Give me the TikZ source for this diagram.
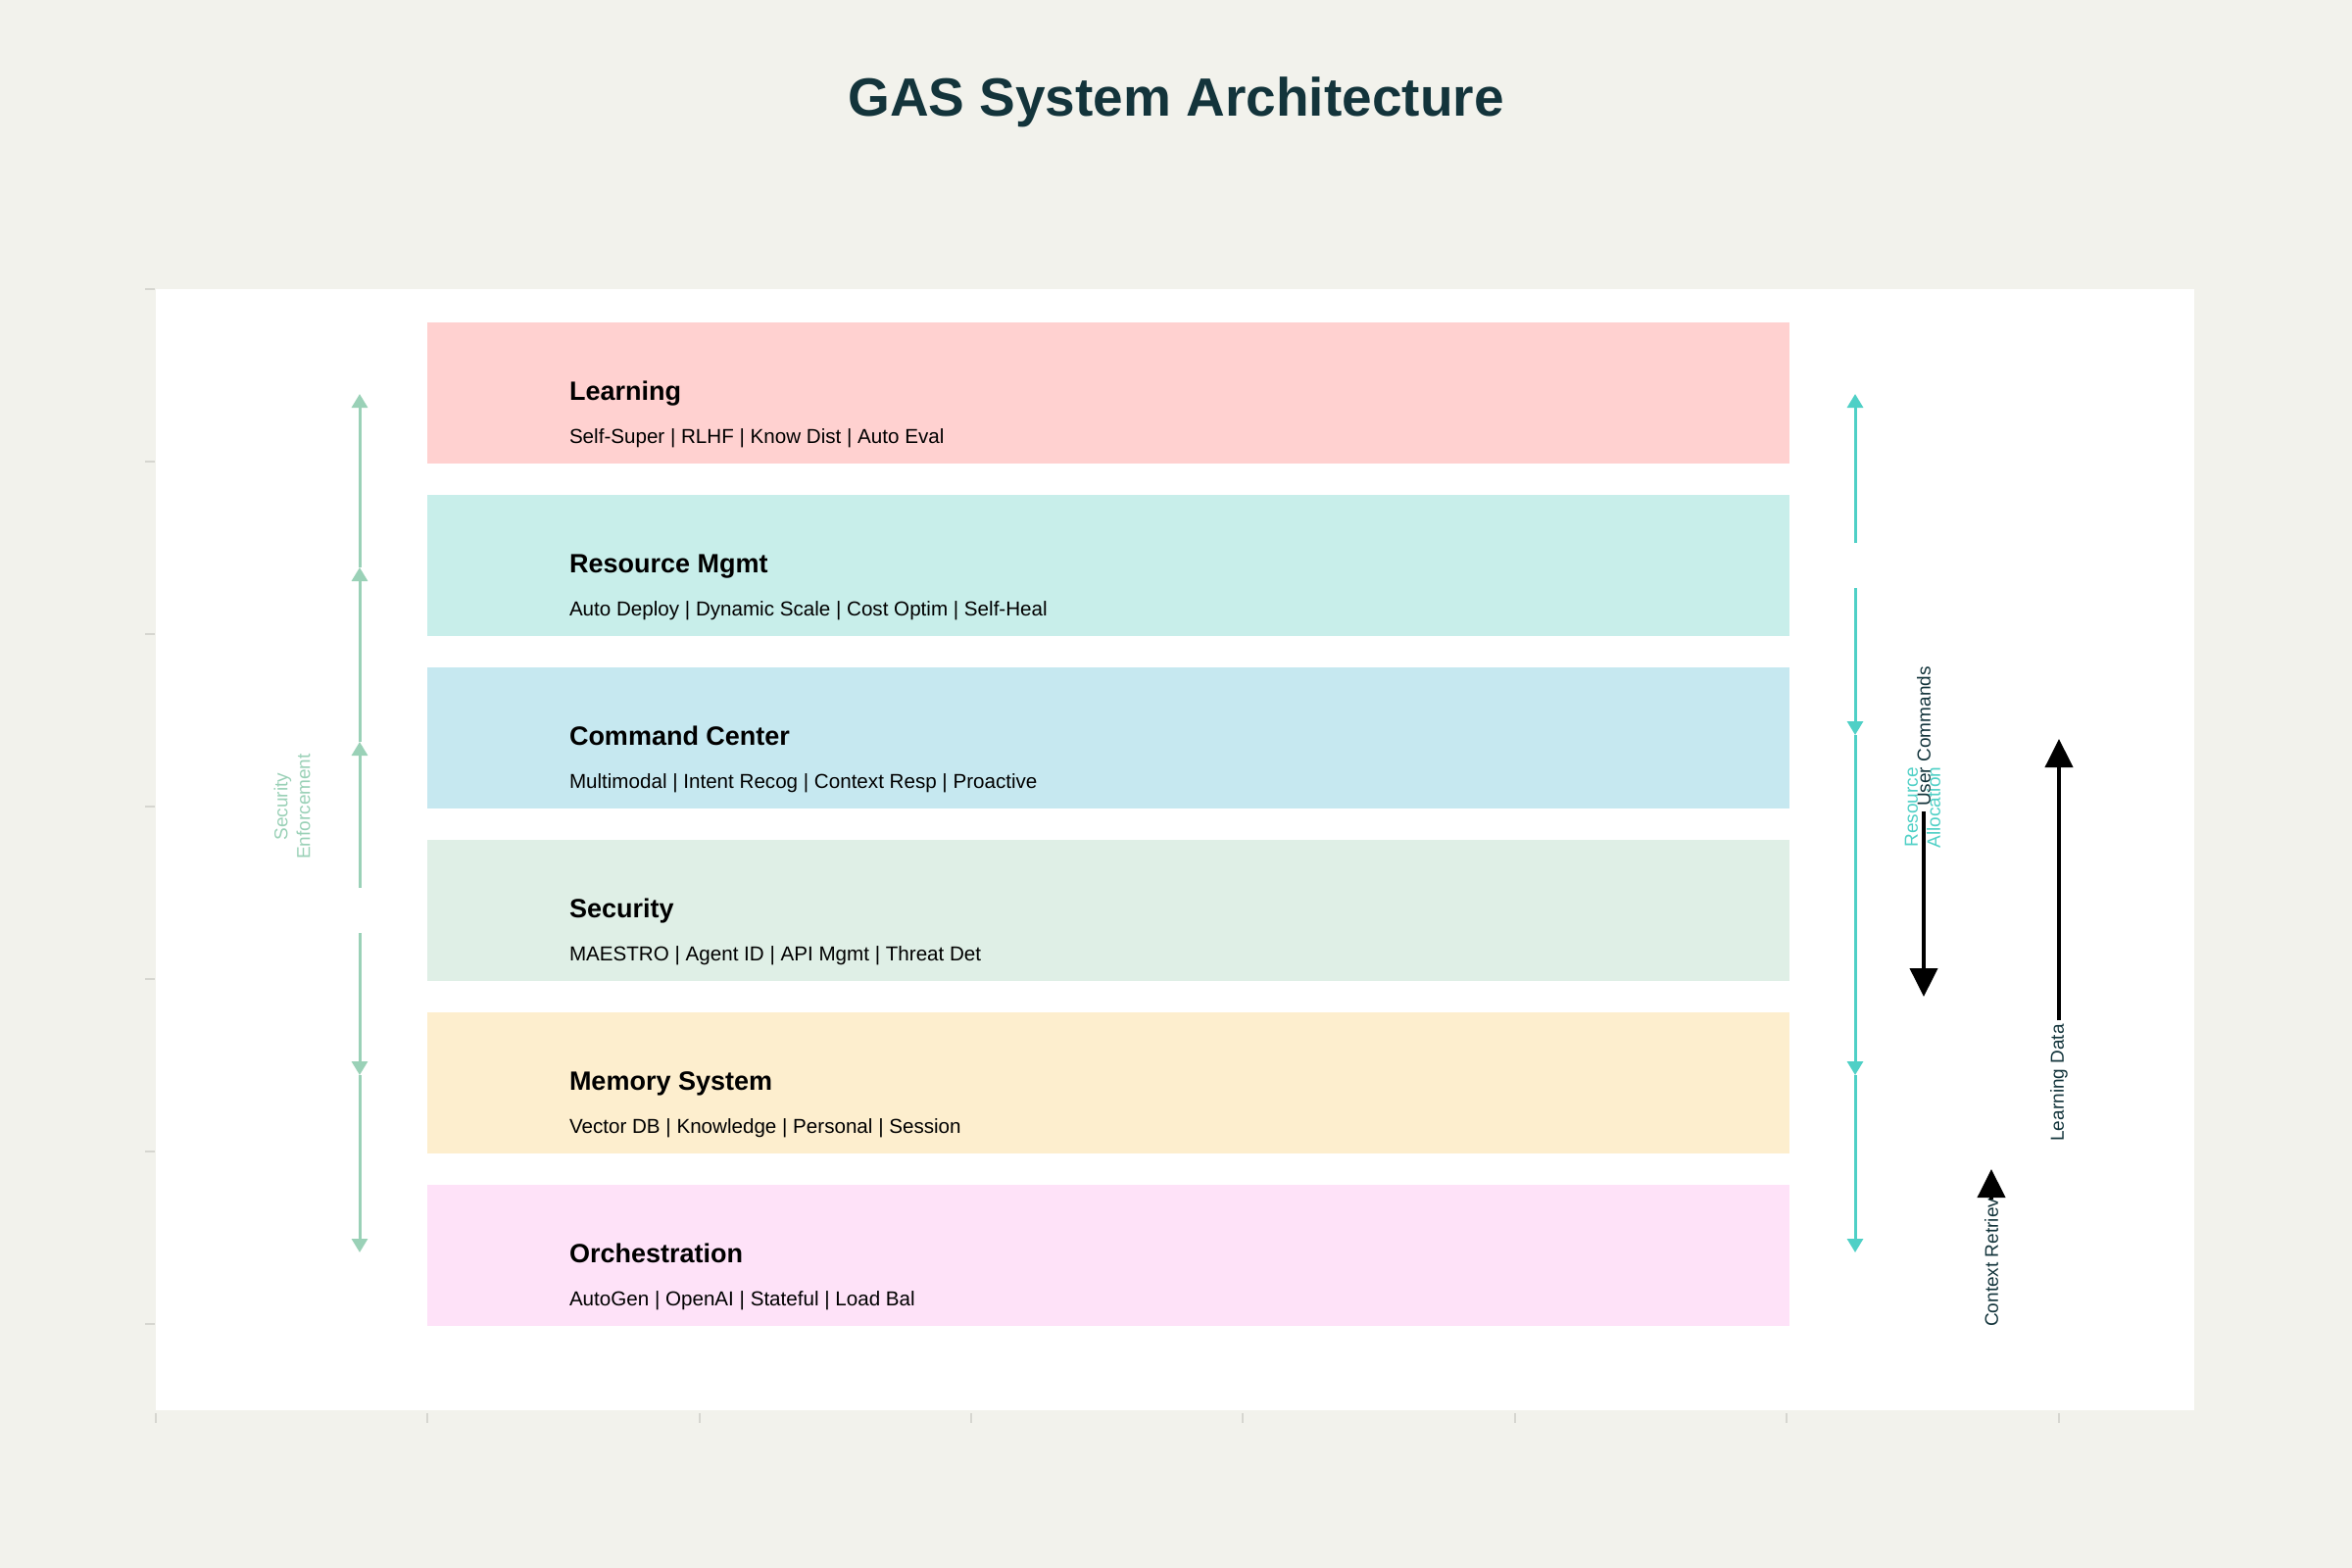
\documentclass[tikz,border=0pt]{standalone}
\usepackage{fontspec}
\setmainfont{Liberation Sans}
\usetikzlibrary{arrows.meta}

\definecolor{bgC}{HTML}{F2F2EC}
\definecolor{inkC}{HTML}{13343B}
\definecolor{secC}{HTML}{9AD1B7}
\definecolor{resC}{HTML}{4FD0C6}
\definecolor{tickC}{HTML}{D6D6D0}
\definecolor{learnC}{HTML}{FFD1D0}
\definecolor{rmgmtC}{HTML}{C8EEEA}
\definecolor{cmdC}{HTML}{C6E8F0}
\definecolor{secfillC}{HTML}{DFEFE6}
\definecolor{memC}{HTML}{FDEECE}
\definecolor{orchC}{HTML}{FEE2F8}

\tikzset{
  layer/.style={minimum width=1390pt, minimum height=144pt, inner sep=0pt, draw=none},
  ltitle/.style={anchor=base west, inner sep=0pt, font=\fontsize{27}{30}\selectfont\bfseries},
  lsub/.style={anchor=base west, inner sep=0pt, font=\fontsize{20.6}{24}\selectfont},
  flowlab/.style={rotate=90, inner sep=0pt, font=\fontsize{19}{23}\selectfont, align=center},
  secarrow/.style={secC, line width=3pt, -{Triangle[length=14pt,width=16pt]}},
  resarrow/.style={resC, line width=3pt, -{Triangle[length=14pt,width=16pt]}},
  dataarrow/.style={black, line width=4pt, -{Triangle[length=29pt,width=28pt]}},
  tickmark/.style={tickC, line width=2pt}
}

\begin{document}
\begin{tikzpicture}[x=1pt, y=-1pt]
% canvas and plot area
\fill[bgC] (0,0) rectangle (2400,1600);
\useasboundingbox (0,0) rectangle (2400,1600);
\fill[white] (159,295) rectangle (2239,1439);
\draw[tickmark] (148,295) -- (158,295) (148,471) -- (158,471) (148,647) -- (158,647)
  (148,823) -- (158,823) (148,999) -- (158,999) (148,1175) -- (158,1175) (148,1351) -- (158,1351);
\draw[tickmark] (159,1442) -- (159,1452) (436,1442) -- (436,1452) (714,1442) -- (714,1452)
  (991,1442) -- (991,1452) (1268,1442) -- (1268,1452) (1546,1442) -- (1546,1452)
  (1823,1442) -- (1823,1452) (2101,1442) -- (2101,1452);

\node[inkC, font=\fontsize{55}{60}\selectfont\bfseries, anchor=base, inner sep=0pt] (title) at (1200,119) {GAS System Architecture};

% layers
\node[layer, fill=learnC] (learn) at (1131,401) {};
\node[ltitle] (learnT) at ([shift={(145,7)}]learn.west) {Learning};
\node[lsub] (learnS) at ([shift={(145,51)}]learn.west) {Self-Super | RLHF | Know Dist | Auto Eval};

\node[layer, fill=rmgmtC] (rmgmt) at (1131,577) {};
\node[ltitle] (rmgmtT) at ([shift={(145,7)}]rmgmt.west) {Resource Mgmt};
\node[lsub] (rmgmtS) at ([shift={(145,51)}]rmgmt.west) {Auto Deploy | Dynamic Scale | Cost Optim | Self-Heal};

\node[layer, fill=cmdC] (cmd) at (1131,753) {};
\node[ltitle] (cmdT) at ([shift={(145,7)}]cmd.west) {Command Center};
\node[lsub] (cmdS) at ([shift={(145,51)}]cmd.west) {Multimodal | Intent Recog | Context Resp | Proactive};

\node[layer, fill=secfillC] (sec) at (1131,929) {};
\node[ltitle] (secT) at ([shift={(145,7)}]sec.west) {Security};
\node[lsub] (secS) at ([shift={(145,51)}]sec.west) {MAESTRO | Agent ID | API Mgmt | Threat Det};

\node[layer, fill=memC] (mem) at (1131,1105) {};
\node[ltitle] (memT) at ([shift={(145,7)}]mem.west) {Memory System};
\node[lsub] (memS) at ([shift={(145,51)}]mem.west) {Vector DB | Knowledge | Personal | Session};

\node[layer, fill=orchC] (orch) at (1131,1281) {};
\node[ltitle] (orchT) at ([shift={(145,7)}]orch.west) {Orchestration};
\node[lsub] (orchS) at ([shift={(145,51)}]orch.west) {AutoGen | OpenAI | Stateful | Load Bal};

% security enforcement (left)
\coordinate (secUp) at (367,906);
\coordinate (secDn) at (367,952);
\coordinate (secCmd) at (367,757);
\coordinate (secRes) at (367,579);
\coordinate (secLearn) at (367,402);
\coordinate (secMem) at (367,1097);
\coordinate (secOrch) at (367,1278);
\draw[secarrow] (secUp) -- (secCmd);
\draw[secarrow] (secCmd) -- (secRes);
\draw[secarrow] (secRes) -- (secLearn);
\draw[secarrow] (secDn) -- (secMem);
\draw[secarrow] (secMem) -- (secOrch);
\node[flowlab, secC] (secLab) at (298,823) {Security\\Enforcement};

% resource allocation (right)
\coordinate (resUp) at (1893,554);
\coordinate (resDn) at (1893,600);
\coordinate (resLearn) at (1893,402);
\coordinate (resCmd) at (1893,750);
\coordinate (resMem) at (1893,1097);
\coordinate (resOrch) at (1893,1278);
\draw[resarrow] (resUp) -- (resLearn);
\draw[resarrow] (resDn) -- (resCmd);
\draw[resarrow] (resCmd) -- (resMem);
\draw[resarrow] (resMem) -- (resOrch);
\node[flowlab, resC] (resLab) at (1962,824) {Resource\\Allocation};

% data flows
\coordinate (ucA) at (1963,828);
\coordinate (ucB) at (1963,1017);
\draw[dataarrow] (ucA) -- (ucB);
\node[flowlab, inkC, anchor=west] (ucLab) at (1963,823) {User Commands};

\coordinate (ldA) at (2101,1041);
\coordinate (ldB) at (2101,754);
\draw[dataarrow] (ldA) -- (ldB);
\node[flowlab, inkC, anchor=east] (ldLab) at (2101,1045) {Learning Data};

\node[flowlab, inkC, anchor=west] (crLab) at (2032,1354) {Context Retrieval};
\coordinate (crA) at (2032,1224);
\coordinate (crB) at (2032,1193);
\draw[dataarrow] (crA) -- (crB);
\end{tikzpicture}
\end{document}
